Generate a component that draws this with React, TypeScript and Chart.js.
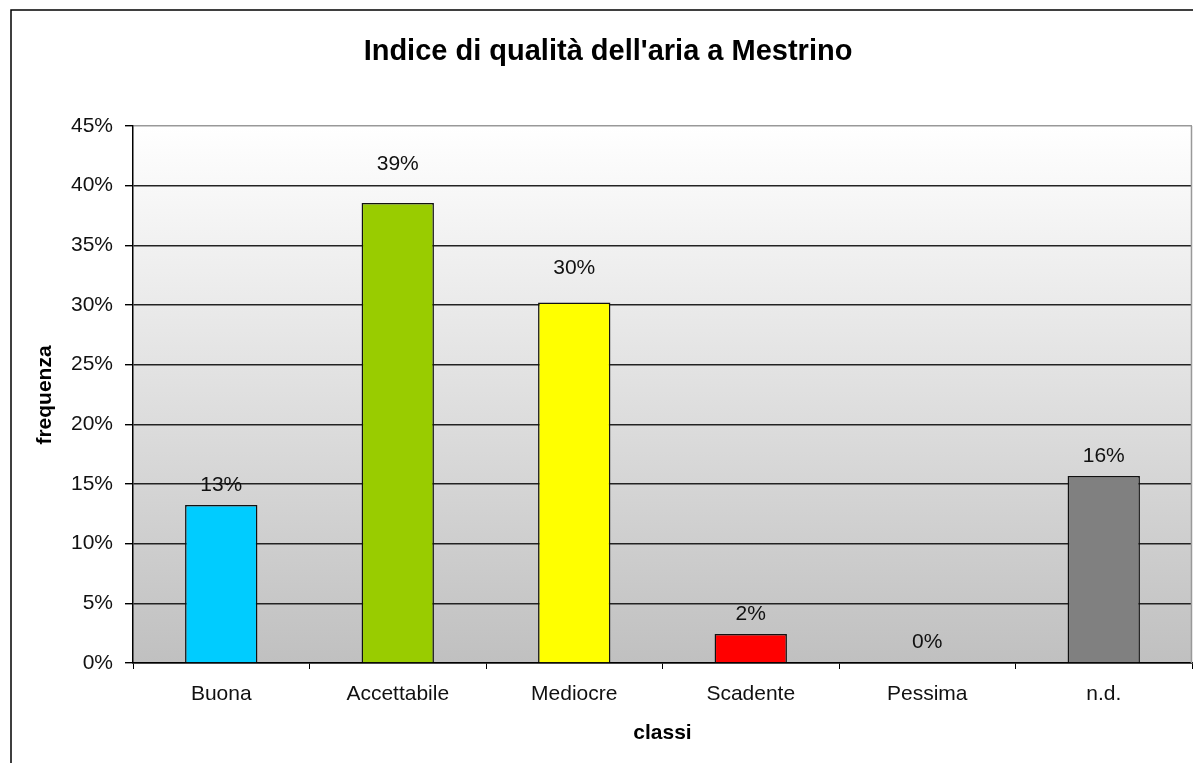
import React, { useEffect, useRef } from "react";
import { Chart, registerables } from "chart.js";

Chart.register(...registerables);

const title = "Indice di qualità dell'aria a Mestrino";
const categories = ["Buona", "Accettabile", "Mediocre", "Scadente", "Pessima", "n.d."];
const frequenza = [13.24, 38.55, 30.2, 2.43, 0, 15.67];
const barColors = ["#00CCFF", "#99CC00", "#FFFF00", "#FF0000", "#993300", "#808080"];
const yTicks = [0, 5, 10, 15, 20, 25, 30, 35, 40, 45];
const yTitle = "frequenza";
const xTitle = "classi";

const FONT = "'Liberation Sans', Arial, sans-serif";
const labelLift = [20, 39, 34, 20, 21, 20];

export default function App() {
  const ref = useRef<HTMLCanvasElement | null>(null);

  useEffect(() => {
    const canvas = ref.current;
    if (!canvas) return;

    const decor = {
      id: "decor",
      beforeDraw(chart: any) {
        const { ctx, chartArea: a } = chart;
        ctx.save();
        ctx.fillStyle = "#ffffff";
        ctx.fillRect(0, 0, chart.width, chart.height);
        const g = ctx.createLinearGradient(0, a.top, 0, a.bottom);
        g.addColorStop(0, "#ffffff");
        g.addColorStop(1, "#c0c0c0");
        ctx.fillStyle = g;
        ctx.fillRect(a.left, a.top, a.right - a.left, a.bottom - a.top);
        // outer chart frame
        ctx.strokeStyle = "#000";
        ctx.lineWidth = 1.5;
        ctx.beginPath();
        ctx.moveTo(11, chart.height + 5);
        ctx.lineTo(11, 10);
        ctx.lineTo(chart.width + 5, 10);
        ctx.stroke();
        ctx.restore();
      },
      afterDatasetsDraw(chart: any) {
        const { ctx, chartArea: a } = chart;
        ctx.save();
        // plot area right border
        ctx.strokeStyle = "#999";
        ctx.lineWidth = 1.5;
        ctx.beginPath();
        ctx.moveTo(a.right - 0.5, a.top);
        ctx.lineTo(a.right - 0.5, a.bottom);
        ctx.stroke();
        // data labels
        const meta = chart.getDatasetMeta(0);
        ctx.fillStyle = "#111";
        ctx.font = `21px ${FONT}`;
        ctx.textAlign = "center";
        ctx.textBaseline = "middle";
        meta.data.forEach((bar: any, i: number) => {
          const v = frequenza[i];
          ctx.fillText(Math.round(v) + "%", bar.x, bar.y - labelLift[i]);
        });
        // titles
        ctx.fillStyle = "#000";
        ctx.font = `bold 29px ${FONT}`;
        ctx.fillText(title, 608, 52);
        ctx.font = `bold 21px ${FONT}`;
        ctx.fillText(xTitle, (a.left + a.right) / 2, 733);
        ctx.translate(45, 395);
        ctx.rotate(-Math.PI / 2);
        ctx.fillText(yTitle, 0, 0);
        ctx.restore();
      },
    };

    const chart = new Chart(canvas, {
      type: "bar",
      data: {
        labels: categories,
        datasets: [
          {
            data: frequenza,
            backgroundColor: barColors,
            borderColor: "#111",
            borderWidth: (c: any) => (frequenza[c.dataIndex] === 0 ? 0 : 1.5),
            categoryPercentage: 1,
            barPercentage: 0.41,
          },
        ],
      },
      options: {
        responsive: false,
        animation: false,
        devicePixelRatio: 1,
        layout: { padding: { top: 126, right: 1, left: 0, bottom: 0 } },
        plugins: {
          legend: { display: false },
          title: { display: false },
          tooltip: { enabled: false },
        },
        scales: {
          x: {
            afterFit: (s: any) => {
              s.height = 100;
            },
            grid: {
              display: true,
              drawOnChartArea: false,
              drawTicks: true,
              tickLength: 6,
              color: "#000",
              offset: true,
            },
            border: { display: true, color: "#000", width: 1.5 },
            ticks: {
              color: "#111",
              font: { family: FONT, size: 21 },
              padding: 13,
            },
          },
          y: {
            min: 0,
            max: 45,
            afterFit: (s: any) => {
              s.width = 133;
            },
            afterBuildTicks: (s: any) => {
              s.ticks = yTicks.map((v) => ({ value: v }));
            },
            grid: {
              color: (c: any) => (c.tick && c.tick.value === 45 ? "#999" : "#222"),
              tickColor: "#000",
              tickLength: 8,
              lineWidth: 1.4,
            },
            border: { display: true, color: "#000", width: 1.5 },
            ticks: {
              color: "#111",
              font: { family: FONT, size: 21 },
              padding: 12,
              callback: (v: any) => v + "%",
            },
          },
        },
      },
      plugins: [decor],
    });

    return () => chart.destroy();
  }, []);

  return (
    <div style={{ position: "fixed", left: 0, top: 0, width: 1193, height: 763, background: "#fff" }}>
      <canvas ref={ref} width={1193} height={763} style={{ display: "block" }} />
    </div>
  );
}
